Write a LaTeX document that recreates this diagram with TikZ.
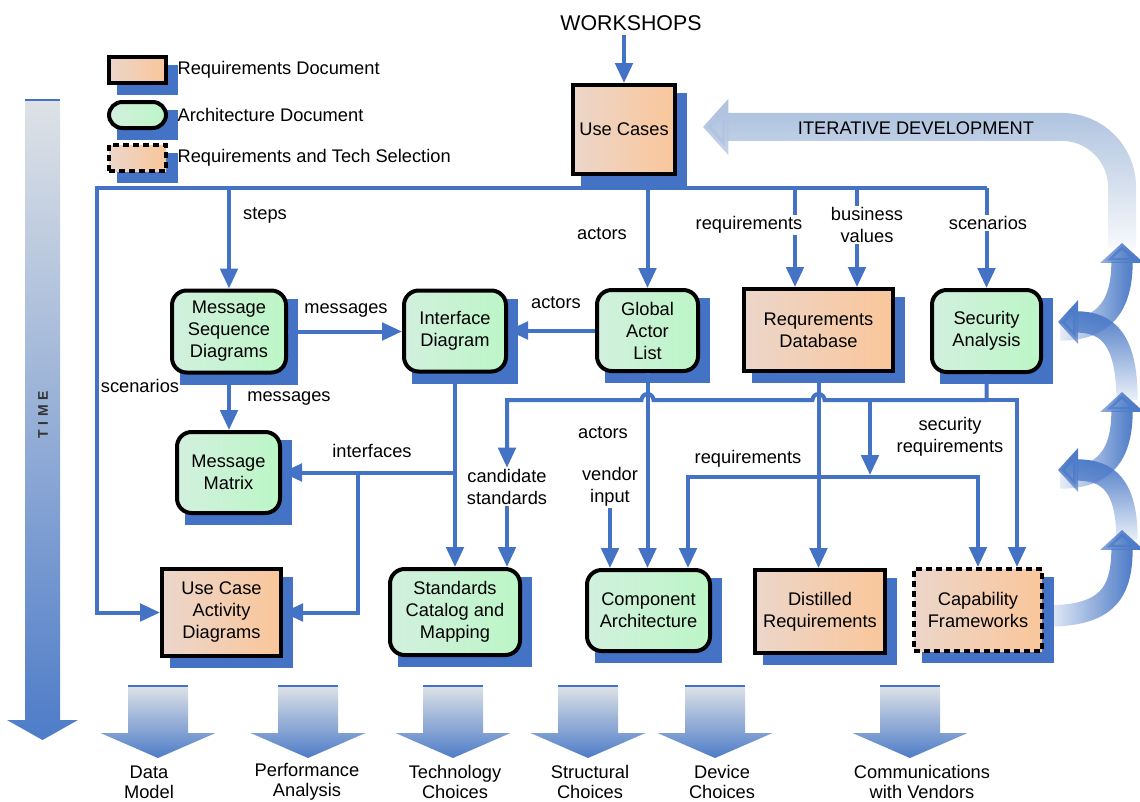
\documentclass[tikz,border=0pt]{standalone}
\usepackage{fontspec}
\setmainfont{Liberation Sans}
\usetikzlibrary{positioning}
\usetikzlibrary{calc}
\usetikzlibrary{arrows.meta}
\usetikzlibrary{fadings}
\usetikzlibrary{backgrounds}
\definecolor{flowblue}{RGB}{68,114,196}
\definecolor{shadowblue}{RGB}{68,114,196}
\definecolor{arcblue}{RGB}{78,124,200}
\definecolor{iterblue}{RGB}{176,196,224}
\definecolor{fadegray}{RGB}{222,226,230}
\definecolor{orangeA}{RGB}{236,214,202}
\definecolor{orangeB}{RGB}{250,198,154}
\definecolor{greenA}{RGB}{210,240,222}
\definecolor{greenB}{RGB}{188,246,198}
\newcommand{\diagfont}{\fontsize{13.7}{16.5}\selectfont}
\tikzset{
  docbox/.style={draw=black, line width=3pt, inner sep=2pt, align=center, font=\diagfont},
  reqdoc/.style={docbox, left color=orangeA, right color=orangeB},
  archdoc/.style={docbox, rounded corners=11pt, left color=greenA, right color=greenB},
  techsel/.style={reqdoc, dash pattern=on 4.5pt off 3pt},
  flow/.style={draw=flowblue, line width=3pt, -{Triangle[width=13pt,length=15pt]}},
  busline/.style={draw=flowblue, line width=3pt},
  lbl/.style={fill=white, inner sep=1pt, align=center, font=\diagfont},
  loopband/.style={draw=arcblue, line width=16pt, -{Triangle[width=32pt,length=15pt]}},
}

\begin{document}
\begin{tikzpicture}[x=0.75pt, y=-0.75pt]
    \useasboundingbox (0,0) rectangle (1140,801);

    % legend
    \node[reqdoc, minimum width=42.75pt, minimum height=19.5pt] (legreq) at (137.5,70) {};
    \node[archdoc, rounded corners=10pt, minimum width=42.75pt, minimum height=19.5pt] (legarch) at (137.5,115) {};
    \node[techsel, minimum width=42.75pt, minimum height=19.5pt] (legtech) at (137.5,158) {};
    \node[lbl, fill=none, right=6pt of legreq] (legreqtxt) {Requirements Document};
    \node[lbl, fill=none, right=6pt of legarch] (legarchtxt) {Architecture Document};
    \node[lbl, fill=none, right=6pt of legtech] (legtechtxt) {Requirements and Tech Selection};

    % time axis
    \shade[top color=fadegray, bottom color=arcblue] (25,100) -- (60,100) -- (60,720) -- (78,720) -- (42.5,740) -- (7,720) -- (25,720) -- cycle;
    \draw[shadowblue, line width=1pt] (25,100) -- (60,100);
    \node[rotate=90, text=black!80, font=\bfseries\fontsize{10.5}{12}\selectfont] (time) at (43,415) {T\,\,I\,\,M\,\,E};

    % iterative loop
    \draw[draw=iterblue, line width=21pt, rounded corners=45pt, -{Triangle[width=41pt,length=19pt]}, path fading=south] (1122,248) |- (703,127);
    \node[lbl, fill=none, font=\fontsize{13.7}{16}\selectfont] (iter) at (916,128) {ITERATIVE DEVELOPMENT};
    \draw[loopband, path fading=west] (1046,616) .. controls (1105,616) and (1122,595) .. (1122,530);
    \draw[loopband, path fading=south] (1127,540) .. controls (1127,485) and (1108,470) .. (1058,470);
    \draw[loopband, path fading=west] (1060,478) .. controls (1105,478) and (1122,455) .. (1122,392);
    \draw[loopband, path fading=south] (1127,400) .. controls (1127,340) and (1108,322) .. (1058,322);
    \draw[loopband, path fading=west] (1060,330) .. controls (1105,330) and (1122,305) .. (1122,243);

    % documents
    \node[font=\fontsize{16}{18}\selectfont] (ws) at (631,23) {WORKSHOPS};
    \node[reqdoc, minimum width=76.5pt, minimum height=66.75pt] (usecases) at (624,129.5) {Use Cases};
    \node[archdoc, minimum width=85.5pt, minimum height=61.5pt] (msd) at (229,331.5) {Message\\Sequence\\Diagrams};
    \node[archdoc, minimum width=76.5pt, minimum height=60.75pt] (ifd) at (455,331) {Interface\\Diagram};
    \node[archdoc, minimum width=75.75pt, minimum height=60.75pt] (gal) at (647.5,330.5) {Global\\Actor\\List};
    \node[reqdoc, minimum width=111.75pt, minimum height=61.5pt] (rdb) at (818.5,330) {Requrements\\Database};
    \node[archdoc, minimum width=81.75pt, minimum height=61.5pt] (sec) at (986.5,331) {Security\\Analysis};
    \node[archdoc, minimum width=77.25pt, minimum height=60.75pt] (mm) at (228.5,472.5) {Message\\Matrix};
    \node[reqdoc, minimum width=89.25pt, minimum height=65.25pt] (ucad) at (221.5,612.5) {Use Case\\Activity\\Diagrams};
    \node[archdoc, minimum width=97.5pt, minimum height=64.5pt] (scm) at (455,612) {Standards\\Catalog and\\Mapping};
    \node[archdoc, minimum width=92.25pt, minimum height=60.75pt] (comp) at (648.5,610.5) {Component\\Architecture};
    \node[reqdoc, minimum width=97.5pt, minimum height=62.25pt] (dist) at (820,611.5) {Distilled\\Requirements};
    \node[techsel, minimum width=96pt, minimum height=61.5pt] (cap) at (978,610) {Capability\\Frameworks};
    \node[lbl, fill=none] (cand) at (507,487) {candidate\\standards};
    \node[lbl, fill=none] (vend) at (610,487) {vendor\\input};

    \begin{scope}[on background layer]
        \fill[white] (0,0) rectangle (1140,801);
        \foreach \n in {legreq,legarch,legtech,usecases,msd,ifd,gal,rdb,sec,mm,ucad,scm,comp,dist,cap}
            \fill[shadowblue] ($(\n.south west)+(10,10)$) rectangle ($(\n.north east)+(10,10)$);
    \end{scope}

    % junctions
    \coordinate (busL) at (97,188);
    \coordinate (busR) at (sec.north |- busL);
    \coordinate (rdbA) at ($(rdb.north)+(-23.5,0)$);
    \coordinate (rdbB) at ($(rdb.north)+(38.5,0)$);
    \coordinate (sbus) at (986.5,400);
    \coordinate (srq) at (870,400);
    \coordinate (rqtop) at (870,475);
    \coordinate (rqj) at (818.5,477);
    \coordinate (ifj) at (ifd.south |- mm.east);
    \coordinate (ucj) at (358,472.5);

    % flows from use cases
    \draw[flow] (ws.south -| usecases.north) -- (usecases.north);
    \draw[busline] (usecases.south) -- (usecases.south |- busL);
    \draw[flow] (busR) -- (busL) |- (ucad.west);
    \draw[flow] (busR) -- (sec.north);
    \draw[flow] (msd.north |- busL) -- (msd.north);
    \draw[flow] (gal.north |- busL) -- (gal.north);
    \draw[flow] (rdbA |- busL) -- (rdbA);
    \draw[flow] (rdbB |- busL) -- (rdbB);

    % architecture flows
    \draw[flow] (msd.east) -- (msd.east -| ifd.west);
    \draw[flow] (gal.west) -- (gal.west -| ifd.east);
    \draw[flow] (msd.south) -- (msd.south |- mm.north);
    \draw[flow] (ifd.south) -- (ifd.south |- scm.north);
    \draw[flow] (ifj) -- (mm.east);
    \draw[flow] (ucj) |- (ucad.east);
    \draw[flow] (gal.south) -- (gal.south |- comp.north);
    \draw[flow] (sec.south) -- (sbus) -- (824.5,400) arc[start angle=0, end angle=-180, radius=6] -- (653.5,400) arc[start angle=0, end angle=-180, radius=6] -- (507,400) -- (cand.north);
    \draw[flow] (cand.south) -- (cand.south |- scm.north);
    \draw[flow] (vend.south) -- (vend.south |- comp.north);
    \draw[flow] (sbus) -| ($(cap.north)+(39,0)$);
    \draw[flow] (srq) -- (rqtop);
    \draw[flow] (rdb.south) -- (rdb.south |- dist.north);
    \draw[flow] (rqj) -| ($(comp.north)+(39.5,0)$);
    \draw[flow] (rqj) -| (cap.north);

    % labels
    \node[lbl] (lsteps) at (265,215) {steps};
    \node[lbl] (lact1) at (602,234) {actors};
    \node[lbl] (lreq1) at (749,225) {requirements};
    \node[lbl] (lbiz) at (867,225) {business\\values};
    \node[lbl] (lscen1) at (988,223) {scenarios};
    \node[lbl] (lmsg1) at (346,310) {messages};
    \node[lbl] (lact2) at (556,303) {actors};
    \node[lbl] (lscen2) at (140,386) {scenarios};
    \node[lbl] (lmsg2) at (289,398) {messages};
    \node[lbl] (lif) at (372,451) {interfaces};
    \node[lbl] (lact3) at (603,433) {actors};
    \node[lbl] (lreq2) at (748,459) {requirements};
    \node[lbl] (lsecreq) at (950,437) {security\\requirements};

    % outcomes
    \foreach \x in {158,308,453,588,715,910} {
        \shade[top color=fadegray, bottom color=arcblue] (\x-30,686) -- (\x+30,686) -- (\x+30,733) -- (\x+57.5,733) -- (\x,758) -- (\x-57.5,733) -- (\x-30,733) -- cycle;
        \draw[shadowblue, line width=1pt] (\x-30,686) -- (\x+30,686);
    }
    \node[lbl, fill=none, font=\fontsize{13.7}{15}\selectfont] (odm) at (149,782) {Data\\Model};
    \node[lbl, fill=none, font=\fontsize{13.7}{15}\selectfont] (opa) at (307,782) {Performance\\Analysis};
    \node[lbl, fill=none, font=\fontsize{13.7}{15}\selectfont] (otc) at (455,782) {Technology\\Choices};
    \node[lbl, fill=none, font=\fontsize{13.7}{15}\selectfont] (osc) at (590,782) {Structural\\Choices};
    \node[lbl, fill=none, font=\fontsize{13.7}{15}\selectfont] (odc) at (722,782) {Device\\Choices};
    \node[lbl, fill=none, font=\fontsize{13.7}{15}\selectfont] (ocv) at (922,782) {Communications\\with Vendors};
\end{tikzpicture}
\end{document}
